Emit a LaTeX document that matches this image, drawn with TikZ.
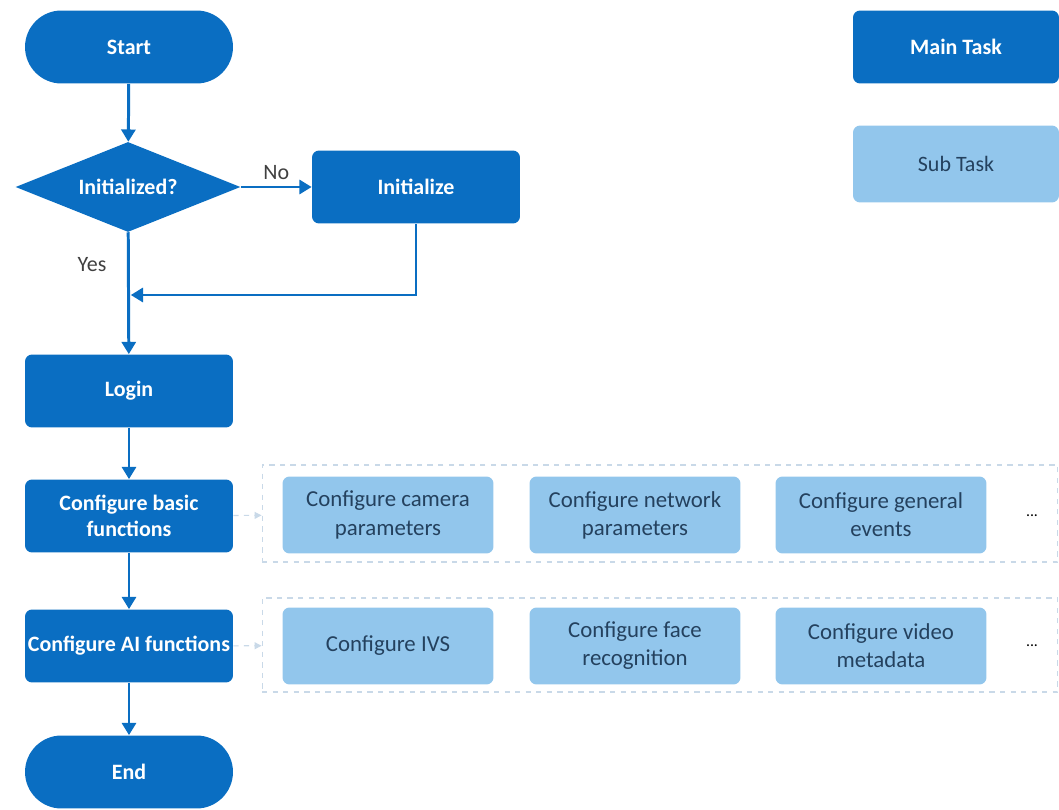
\documentclass[tikz,border=0pt]{standalone}
\usepackage{fontspec}
\setmainfont{Carlito}
\usepackage{xcolor}
\usetikzlibrary{shapes.geometric,arrows.meta}
\definecolor{mainblue}{HTML}{0A6EC2}
\definecolor{subblue}{HTML}{92C6EC}
\definecolor{subtext}{HTML}{24415E}
\definecolor{grouped}{HTML}{C9D9E8}
\tikzset{
	maintask/.style={fill=mainblue, rounded corners=4pt, minimum width=4.16cm, minimum height=1.46cm,
		inner sep=0pt, align=center, text=white, font=\fontsize{12.5}{15}\selectfont\bfseries},
	terminal/.style={maintask, rounded corners=0.73cm},
	decision/.style={diamond, aspect=2.5, fill=mainblue, minimum width=4.5cm, minimum height=1.8cm,
		inner sep=0pt, text=white, font=\fontsize{12.5}{15}\selectfont\bfseries},
	subtask/.style={fill=subblue, rounded corners=4pt, minimum width=4.22cm, minimum height=1.54cm,
		inner sep=0pt, align=center, text=subtext, font=\fontsize{13}{16}\selectfont},
	group/.style={draw=grouped, dashed, line width=0.6pt, minimum width=15.92cm, inner sep=0pt},
	flow/.style={draw=mainblue, line width=1.7pt, -{Triangle[length=7pt, width=8pt]}},
	link/.style={draw=grouped, dashed, line width=0.6pt, -{Triangle[length=4pt, width=4pt]}},
	answer/.style={text=black!75, font=\fontsize{12.5}{15}\selectfont}
}
\begin{document}
\begin{tikzpicture}[x=0.02cm, y=-0.02cm]
	\useasboundingbox (0,0) rectangle (1059,810);
	\node[terminal] (start) at (129,47) {Start};
	\node[decision] (check) at (128,187) {Initialized?};
	\node[maintask] (initialize) at (416,187) {Initialize};
	\node[maintask] (login) at (129,391) {Login};
	\node[maintask] (basic) at (129,516) {Configure basic\\functions};
	\node[maintask] (ai) at (129,646) {Configure AI functions};
	\node[terminal] (end) at (129,772) {End};
	\node[maintask, minimum width=4.12cm] (legmain) at (956,47) {Main Task};
	\node[subtask, minimum width=4.12cm, font=\fontsize{12.5}{15}\selectfont] (legsub) at (956,164) {Sub Task};
	\node[group, minimum height=1.94cm] (rowbasic) at (660,513.5) {};
	\node[group, minimum height=1.88cm] (rowai) at (660,645) {};
	\foreach \x/\name/\txt in {388/camera/Configure camera\\parameters, 635/network/Configure network\\parameters, 881/events/Configure general\\events}
		\node[subtask] (\name) at (\x,515) {\txt};
	\foreach \x/\name/\txt in {388/ivs/Configure IVS, 635/face/Configure face\\recognition, 881/video/Configure video\\metadata}
		\node[subtask] (\name) at (\x,646) {\txt};
	\node[font=\small] (morebasic) at (1032,516) {...};
	\node[font=\small] (moreai) at (1032,646) {...};
	\coordinate (join) at (129,295);
	\node[answer] (yes) at (92,265) {Yes};
	\draw[flow] (start) -- (check);
	\draw[flow] (check) -- node[answer, above] {No} (initialize);
	\draw[flow] (check) -- (login);
	\draw[flow, shorten >=1pt] (initialize) |- (join);
	\draw[flow] (login) -- (basic);
	\draw[flow] (basic) -- (ai);
	\draw[flow] (ai) -- (end);
	\draw[link] (basic) -- (rowbasic);
	\draw[link] (ai) -- (rowai);
\end{tikzpicture}
\end{document}
